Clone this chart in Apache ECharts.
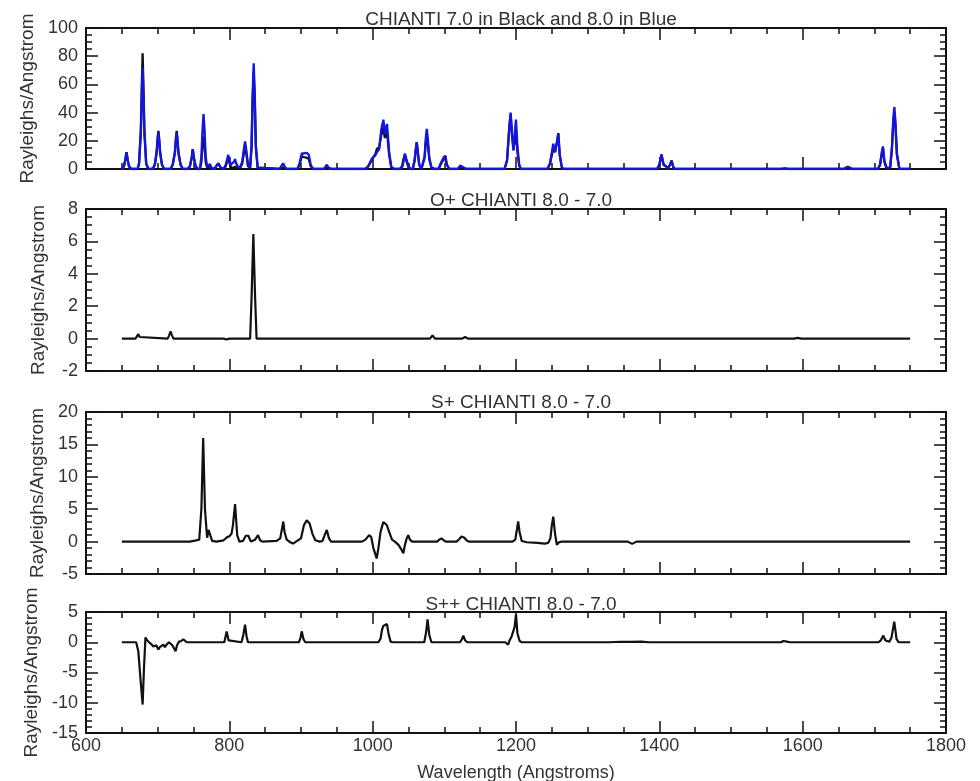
<!DOCTYPE html>
<html>
<head>
<meta charset="utf-8">
<script src="https://cdn.jsdelivr.net/npm/echarts@6/dist/echarts.min.js"></script>
<style>
  html, body { margin: 0; padding: 0; background: #fff; }
  #chart { width: 980px; height: 781px; }
</style>
</head>
<body>
<div id="chart"></div>
<script>
// ---- Panel 1: full spectrum, CHIANTI 7.0 (black) and 8.0 (blue) ----
// one line per emission feature, same grouping in all three arrays
const p1Wave = [
  650,651,653,655,656.5,658,660,663,
  672,674,676.5,678,679,680,681.5,684,687,
  693,696,698.5,700,701,702,703.5,706,709,
  718,721,724,725.5,726.5,727.5,729,732,735,
  742,745,747.5,749,750.5,753,756,
  759,761,762.5,764,765.5,767,769,771,773,775,779,
  781,784.5,788,792,795,798.5,801.5,804,806.5,808,809.5,812,815,818,820.5,822,823.5,826,829,
  831,832.5,834,835.5,837,839.5,842,
  870,872.5,875,877.5,880,
  895,898,901,904,908,911,913.5,917,
  932,934,936,938.5,942,
  990,994,998.5,1001,1004,1006,1009,1012,1015,1017,1020,1023,1026,1030,
  1038,1041,1043,1045,1047,1050,1053,
  1056,1058.5,1060,1061.5,1063,1065,1068,
  1070,1072.5,1074,1075.5,1077,1079,1082,1084,1087,
  1092,1095,1097.5,1100,1101.5,1103.5,1107,
  1119,1122,1124,1127,1131,
  1184,1187.5,1190.5,1192.5,1194.5,1196.5,1198.5,1200,1202,1204.5,1207,
  1244,1247.5,1250,1252,1254.5,1257.5,1259,1261,1264,1267,
  1397,1400,1403,1406,1409,1412,1415,1417,1420,1423,
  1570,1575,1580,
  1657,1663,1669,
  1705,1708,1710.5,1712,1714,1717,1722,1724.5,1726.5,1728,1729.5,1731.5,1735,1750
];
const p1Chianti7 = [
  0,0,2,7,12,7,2,0,
  0,4,28,62,82,62,28,4,0,
  0,3,12,22,27,22,12,3,0,
  0,3,12,22,27,22,12,3,0,
  0,2,8,14,8,2,0,
  0,5,16,23,16,5,1,1,2,0.5,0,
  1,4,1,0,2,8,2,0.5,1.2,1.5,1,0.5,0.5,4,12,16.5,12,2,1,
  15,48,68.5,48,15,1,0,
  0,1,1,0.5,0,
  0,3,9,8.5,8,7,2,0,
  0,0.6,1.2,0.3,0,
  0,2,6,7,11,14.5,15,24,29,22,26.5,10,1,0,
  0,2,7,10,6,1,0,
  0,6,13,19,12,3,0,
  0,8,18,24.5,18,7,1,0.5,0,
  0,3.5,4,8,9.5,3,0,
  0,1.5,2,0.5,0,
  0,6,28,39,24,14,20,27.5,12,2,0,
  0,4,10,14,12,20,25.5,10,1,0,
  0,3,10,3,2,0.5,3,6,0.5,0,
  0,0.2,0,
  0,1.5,0,
  0,3,11,15,5,0.5,0.5,14,33,40.5,30,10,0,0
];
const p1Chianti8 = [
  0,0,2,7,12,7,2,0,
  0,3.5,25,55,72,55,25,3.5,0,
  0,3,11,21,26,21,11,3,0,
  0,3,11,21,25.5,21,11,3,0,
  0,2,8,14,8,2,0,
  0,9,27,39,27,9,1.5,2,3.5,1,0,
  1,4,1,0,3,10,3,2,5,7,4,1.5,1.5,5,15,19.5,14,3,1,
  17,53,75,53,17,1,0,
  0,2,4,1.5,0,
  0,4,11,11,11.5,10,3,0,
  0,1.5,3,1,0,
  0,2,7,6,10,12,14,28,35,25,32,12,1.5,0,
  0,1,5,11,7,2,0,
  0,6,13,19,12,3,0,
  0,9,21,28.5,21,8,1,0.7,0,
  0,4,4.5,9,10,3,0,
  0,2.5,3,1,0,
  0,6,29,40,24,13,27,35,16,3,0,
  0,4,12,18,12,20,25,10,1,0,
  0,3,10.5,3,2,0.5,3,6,0.5,0,
  0,0.5,0,
  0,1.5,0,
  0,3,12,16,6,1,1,15,36,44,33,11,0,0
];

// ---- Panel 2: O+ difference, 8.0 - 7.0 ----
const p2Wave = [650,669,671,673,675,677,714,716,718,720,722,792,796,800,829,831,833.5,836,838,1080,1083.5,1087,1125,1129,1133,1588,1593,1598,1750];
const p2Diff = [0,0,0.1,0.27,0.1,0,0,0.2,0.45,0.2,0,0,-0.06,0,0,2.5,6.45,2.5,0,0,0.2,0,0,0.1,0,0,0.04,0,0];

// ---- Panel 3: S+ difference, 8.0 - 7.0 ----
const p3Wave = [650,745,750,758,761,763.5,766,769,771,773,776,782,792,797,800,803,805,808,811,814,819,823,826.5,830,836,840,843,846,866,871,873.5,875.3,877,880,885,889,893,900,904,908,912,916,920,926,930,933,936,939,942,985,990,995,998,1001,1005.6,1008,1011,1014.8,1017,1019.5,1023,1027,1031,1036,1040,1042.8,1045,1047.5,1049.7,1052,1055,1090,1093,1096,1099,1102,1117,1121,1124,1128,1131,1134,1195,1199,1201.5,1203,1205,1208,1215,1230,1240,1245,1248,1250,1252,1254.5,1257,1260,1264,1356,1362,1368,1750];
const p3Diff = [0,0,0.1,0.3,5,16,5,0.6,1.8,1.5,0.1,0,0.2,0.7,0.8,1.2,2.5,5.8,1,0,0.1,0.9,0.9,0,0.3,1.0,0.2,0,0.1,0.5,2,3.1,1.5,0.3,-0.1,-0.3,0,0.5,2.5,3.3,2.8,1.2,0.2,0,0.1,1,1.8,0.5,0,0,0.3,1.0,0.7,-1,-2.6,-1,1.5,3.0,2.7,2.6,1.5,0.3,0,-0.5,-1.2,-1.8,-0.5,0.5,1.0,0.3,0,0,0.3,0.5,0.2,0,0,0.4,0.8,0.6,0.2,0,0,0.3,2,3.1,1.5,0.1,-0.1,-0.2,-0.3,-0.2,0.5,2.5,3.85,1.2,-0.5,-0.1,0,0,-0.35,0,0];

// ---- Panel 4: S++ difference, 8.0 - 7.0 ----
const p4Wave = [650,670,673,676,679,681,683,684.6,688,691,694,698,701,703,705.6,708,710,713,715.8,718,720.5,723,725,727,729.8,733,735.8,738,740.5,793,796.3,799,801,817,819.5,821.9,824,826,897,899,901,903.5,906,1008,1011,1013,1014.8,1017,1020,1022,1025,1028,1072,1074.5,1076.6,1079,1082,1122,1124.5,1126.5,1129,1132,1185,1189,1191,1194,1196.5,1198,1200,1202,1205,1208,1330,1345,1360,1375,1385,1570,1573,1575.3,1578,1582,1706,1709,1712.5,1715.5,1718,1721,1724,1727.8,1731,1734,1750];
const p4Diff = [0,0,-1.5,-6,-10.3,-4,0.8,0.4,0,-0.3,-0.7,-0.5,-1.2,-0.8,-0.6,-0.4,-0.8,-0.3,0,-0.2,-0.5,-0.8,-1.5,-0.5,0.1,0.2,0.5,0.2,0,0,1.8,0.3,0,0,1.2,2.9,1,0,0,0.6,1.8,0.5,0,0,0.6,2,2.7,2.8,3.0,1.5,0.1,0,0,1.6,3.8,1.2,0,0,0.5,1.1,0.3,0,0,-0.4,0.3,1.0,1.2,2.5,4.6,1.5,0.2,0,0,0.08,0.05,0.1,0,0,0.2,0.5,0.1,0,0,0.3,1.1,0.3,0,0.1,0.8,3.4,0.5,0,0];

// ---- axis ticks and titles ----
const xTicks = { min: 600, max: 1800, step: 200 };
const panelTitles = [
  'CHIANTI 7.0 in Black and 8.0 in Blue',
  'O+ CHIANTI 8.0 - 7.0',
  'S+ CHIANTI 8.0 - 7.0',
  'S++ CHIANTI 8.0 - 7.0'
];
const yRanges = [
  { min: 0, max: 100, step: 20, minor: 4 },
  { min: -2, max: 8, step: 2, minor: 4 },
  { min: -5, max: 20, step: 5, minor: 5 },
  { min: -15, max: 5, step: 5, minor: 5 }
];
const yName = 'Rayleighs/Angstrom';
const xName = 'Wavelength (Angstroms)';

const FONT = 'Liberation Sans, Arial, Helvetica, sans-serif';
const TEXT = '#333';
const INK = '#111';

// plot frames in pixels; labels may sit outside the frames
const grids = [
  { top: 28, height: 141 },
  { top: 209, height: 162 },
  { top: 412, height: 162 },
  { top: 612, height: 121 }
].map(g => ({
  left: 86, right: 34, top: g.top, height: g.height,
  containLabel: false, outerBoundsMode: 'none'
}));

const zip = (xs, ys) => xs.map((x, i) => [x, ys[i]]);

const xAxes = [];
const yAxes = [];
grids.forEach((g, i) => {
  const last = i === grids.length - 1;
  ['bottom', 'top'].forEach(pos => {
    const labelled = last && pos === 'bottom';
    xAxes.push({
      type: 'value', gridIndex: i, position: pos,
      min: xTicks.min, max: xTicks.max, interval: xTicks.step,
      name: labelled ? xName : '', nameLocation: 'middle', nameGap: 31,
      nameTextStyle: { fontFamily: FONT, fontSize: 18, color: TEXT },
      axisLine: { show: true, onZero: false, lineStyle: { color: INK, width: 2 } },
      axisTick: { show: true, inside: true, length: 12, lineStyle: { color: INK, width: 1.5 } },
      minorTick: { show: true, splitNumber: 4, length: 6, lineStyle: { color: INK, width: 1.5 } },
      axisLabel: {
        show: labelled, margin: 4, fontFamily: FONT, fontSize: 18, color: TEXT,
        formatter: v => String(v)
      },
      splitLine: { show: false }
    });
  });
  const r = yRanges[i];
  ['left', 'right'].forEach(pos => {
    const labelled = pos === 'left';
    yAxes.push({
      type: 'value', gridIndex: i, position: pos,
      min: r.min, max: r.max, interval: r.step,
      name: labelled ? yName : '', nameLocation: 'middle', nameGap: 38, nameRotate: 90,
      nameTextStyle: { fontFamily: FONT, fontSize: 19, color: TEXT },
      axisLine: { show: true, onZero: false, lineStyle: { color: INK, width: 2 } },
      axisTick: { show: true, inside: true, length: 12, lineStyle: { color: INK, width: 1.5 } },
      minorTick: { show: true, splitNumber: r.minor, length: 6, lineStyle: { color: INK, width: 1.5 } },
      axisLabel: { show: labelled, margin: 8, fontFamily: FONT, fontSize: 18, color: TEXT },
      splitLine: { show: false }
    });
  });
});

const lineSeries = (name, data, gi, color, width) => ({
  name, type: 'line', data, xAxisIndex: gi * 2, yAxisIndex: gi * 2,
  showSymbol: false, symbol: 'none', smooth: false,
  lineStyle: { color, width }, clip: true
});

const option = {
  animation: false,
  backgroundColor: '#fff',
  title: panelTitles.map((t, i) => ({
    text: t, left: 516, textAlign: 'center', top: [5, 186, 388, 590][i],
    textStyle: { fontFamily: FONT, fontSize: 19, fontWeight: 'normal', color: TEXT }
  })),
  grid: grids,
  xAxis: xAxes,
  yAxis: yAxes,
  series: [
    lineSeries('CHIANTI 7.0', zip(p1Wave, p1Chianti7), 0, INK, 2.3),
    lineSeries('CHIANTI 8.0', zip(p1Wave, p1Chianti8), 0, '#1414e0', 2.3),
    lineSeries('O+', zip(p2Wave, p2Diff), 1, INK, 2.2),
    lineSeries('S+', zip(p3Wave, p3Diff), 2, INK, 2.2),
    lineSeries('S++', zip(p4Wave, p4Diff), 3, INK, 2.2)
  ]
};

const chart = echarts.init(document.getElementById('chart'), null, { renderer: 'canvas' });
chart.setOption(option);
</script>
</body>
</html>
